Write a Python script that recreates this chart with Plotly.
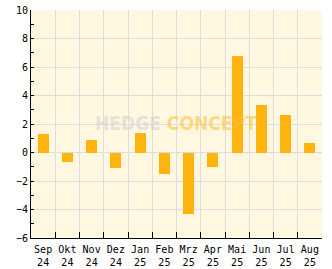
import plotly.graph_objects as go

months = ["Sep<br>24", "Okt<br>24", "Nov<br>24", "Dez<br>24", "Jan<br>25", "Feb<br>25",
          "Mrz<br>25", "Apr<br>25", "Mai<br>25", "Jun<br>25", "Jul<br>25", "Aug<br>25"]
values = [1.3, -0.7, 0.9, -1.1, 1.4, -1.5, -4.3, -1.0, 6.8, 3.3, 2.6, 0.7]

fig = go.Figure()
fig.add_trace(go.Bar(x=months, y=values, width=0.45,
                     marker=dict(color="#FFB30F", line=dict(width=0))))

font = dict(family="DejaVu Sans Mono", size=10, color="#000000")
fig.update_layout(
    width=332, height=269,
    margin=dict(l=31, r=10, t=10, b=31, autoexpand=False),
    paper_bgcolor="#FFFFFF", plot_bgcolor="#FFF7DF",
    showlegend=False, font=font, bargap=0,
    xaxis=dict(type="category", tickson="boundaries", ticks="inside", ticklen=6,
               tickcolor="#000000", showgrid=True, gridcolor="#DDDDDD", gridwidth=1,
               showline=True, linecolor="#000000", linewidth=1, tickfont=font,
               tickangle=0, automargin=False, fixedrange=True, ticklabelstandoff=2),
    yaxis=dict(range=[-6, 10], dtick=2, ticks="inside", ticklen=3, tickcolor="#000000",
               showgrid=True, gridcolor="#DDDDDD", gridwidth=1, zeroline=False,
               showline=True, linecolor="#000000", linewidth=1, tickfont=font,
               automargin=False,
               minor=dict(dtick=1, ticks="inside", ticklen=3, tickcolor="#000000", showgrid=False)),
    annotations=[dict(
        text="<b><span style='color:rgba(205,205,205,0.5)'>HEDGE</span>"
             "<span style='color:rgba(255,190,50,0.55)'> CONCEPT</span></b>",
        xref="paper", yref="paper", x=0.498, y=0.505, showarrow=False,
        font=dict(family="DejaVu Sans Condensed", size=19))],
)
fig.write_html("out.html")
